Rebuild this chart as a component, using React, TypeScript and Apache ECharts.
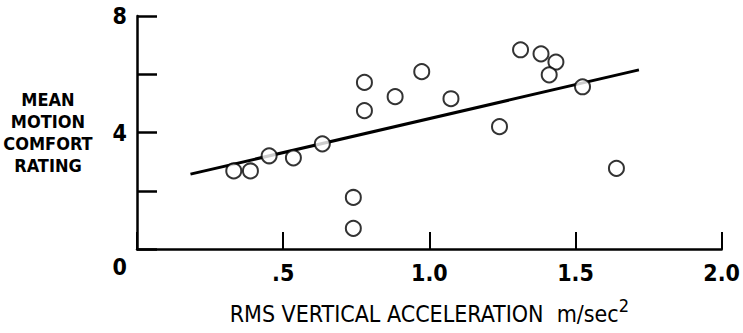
import React, { useEffect, useRef } from "react";
import * as echarts from "echarts";

const accel = [0.331, 0.388, 0.452, 0.535, 0.634, 0.74, 0.74, 0.778, 0.778, 0.883, 0.974, 1.074, 1.24, 1.312, 1.382, 1.433, 1.41, 1.524, 1.64];
const rating = [2.68, 2.68, 3.2, 3.13, 3.61, 1.77, 0.71, 5.72, 4.75, 5.23, 6.09, 5.16, 4.2, 6.84, 6.7, 6.42, 5.98, 5.57, 2.77];
const fitX = [0.183, 1.717];
const fitY = [2.57, 6.15];
const yTickLabels: Record<number, string> = { 0: "0", 4: "4", 8: "8" };
const xTickLabels: Record<string, string> = { "0.5": ".5", "1": "1.0", "1.5": "1.5", "2": "2.0" };

const COND = "'DejaVu Sans Condensed', sans-serif";

export default function App() {
  const ref = useRef<HTMLDivElement>(null);
  useEffect(() => {
    if (!ref.current) return;
    const chart = echarts.init(ref.current, undefined, { renderer: "svg" });
    chart.setOption({
      animation: false,
      backgroundColor: "#fff",
      grid: { left: 137, right: 18, top: 16, bottom: 84 },
      xAxis: {
        type: "value",
        min: 0,
        max: 2,
        interval: 0.5,
        splitLine: { show: false },
        axisLine: { lineStyle: { color: "#000", width: 2.5 } },
        axisTick: { inside: true, length: 17, lineStyle: { color: "#000", width: 2 } },
        axisLabel: {
          margin: 12,
          color: "#000",
          fontFamily: COND,
          fontWeight: "bold",
          fontSize: 23,
          formatter: (v: number) => xTickLabels[String(v)] ?? "",
        },
        name: "{a|RMS VERTICAL ACCELERATION  m/sec}{s|2}",
        nameLocation: "middle",
        nameGap: 47,
        nameTextStyle: {
          rich: {
            a: { fontFamily: COND, fontSize: 23, color: "#000", lineHeight: 30 },
            s: { fontFamily: COND, fontSize: 18, color: "#000", padding: [0, 0, 18, 0] },
          },
        },
      },
      yAxis: {
        type: "value",
        min: 0,
        max: 8,
        interval: 2,
        splitLine: { show: false },
        axisLine: { lineStyle: { color: "#000", width: 2.5 } },
        axisTick: { inside: true, length: 20, lineStyle: { color: "#000", width: 2.5 } },
        axisLabel: {
          margin: 10,
          color: "#000",
          fontFamily: COND,
          fontWeight: "bold",
          fontSize: 23,
          formatter: (v: number) => (v === 0 ? "{z|0}" : yTickLabels[v] ?? ""),
          rich: {
            z: { fontFamily: COND, fontWeight: "bold", fontSize: 23, color: "#000", padding: [36, 0, 0, 0] },
          },
        },
        name: "MEAN\nMOTION\nCOMFORT\nRATING",
        nameLocation: "middle",
        nameRotate: 0,
        nameGap: 89,
        nameTextStyle: {
          fontFamily: COND,
          fontWeight: "bold",
          fontSize: 18,
          lineHeight: 22,
          color: "#000",
          align: "center",
          verticalAlign: "middle",
        },
      },
      series: [
        {
          type: "line",
          data: fitX.map((x, i) => [x, fitY[i]]),
          symbol: "none",
          lineStyle: { color: "#000", width: 3 },
          z: 1,
        },
        {
          type: "scatter",
          data: accel.map((x, i) => [x, rating[i]]),
          symbol: "circle",
          symbolSize: 15,
          itemStyle: { color: "#fff", borderColor: "#000", borderWidth: 2 },
          z: 2,
        },
      ],
    });
    return () => chart.dispose();
  }, []);
  return <div ref={ref} style={{ width: 743, height: 333, position: "absolute", left: 0, top: 0 }} />;
}
